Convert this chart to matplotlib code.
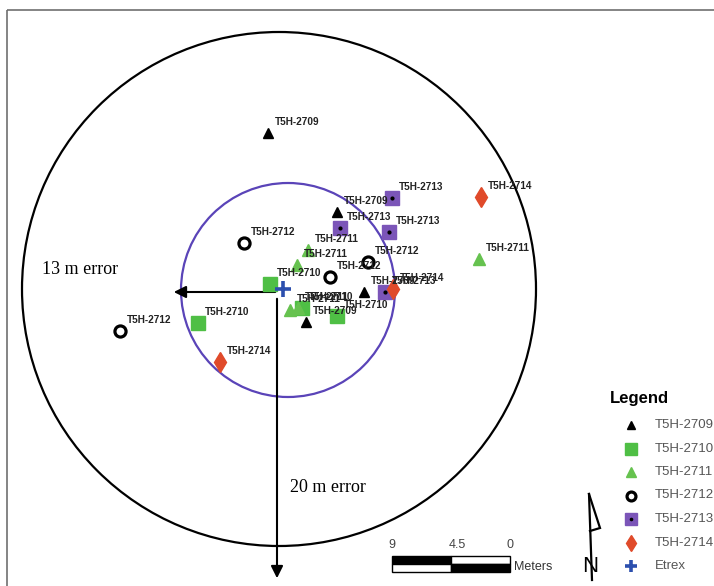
import matplotlib
matplotlib.use("Agg")
import matplotlib.pyplot as plt
from matplotlib.patches import Circle, Rectangle

# map positions (image pixel coords)
t2709_x = [268, 337, 364, 306]
t2709_y = [133, 212, 292, 322]
t2710_x = [270, 198, 302, 337]
t2710_y = [284, 323, 308, 316]
t2711_x = [479, 297, 308, 290, 298]
t2711_y = [259, 265, 250, 310, 308]
t2712_x = [244, 120, 330, 368]
t2712_y = [243, 331, 277, 262]
t2713_x = [392, 340, 389, 385]
t2713_y = [198, 228, 232, 292]
t2714_x = [481, 393, 220]
t2714_y = [197, 289, 362]
etrex_x = [283]
etrex_y = [289]

names = ["T5H-2709", "T5H-2710", "T5H-2711", "T5H-2712", "T5H-2713", "T5H-2714", "Etrex"]

# error circles: centre, radius
big_c = (279, 289)
big_r = 257
small_c = (288, 290)
small_r = 107

# scale bar ticks
scale_ticks = ["9", "4.5", "0"]

fig = plt.figure(figsize=(7.14, 5.86), dpi=100)
ax = fig.add_axes([0, 0, 1, 1])
ax.set_xlim(0, 714)
ax.set_ylim(586, 0)
ax.axis("off")

# frame
ax.add_patch(Rectangle((7, 10), 720, 600, fill=False, ec="#707070", lw=1.2))

ax.add_patch(Circle(big_c, big_r, fill=False, ec="black", lw=1.6))
ax.add_patch(Circle(small_c, small_r, fill=False, ec="#5a44b8", lw=1.6))

styles = [
    dict(marker="^", color="black", ms=7),
    dict(marker="s", color="#4fbf45", ms=10),
    dict(marker="^", color="#66c24f", ms=9),
    dict(marker="o", mfc="none", mec="black", mew=2.3, ms=8, color="black"),
    dict(marker="s", color="#7b55b8", ms=10),
    dict(marker="d", color="#e04a2a", ms=10),
    dict(marker="+", color="#2c4fae", mew=2.6, ms=11),
]
series = [(t2709_x, t2709_y), (t2710_x, t2710_y), (t2711_x, t2711_y),
          (t2712_x, t2712_y), (t2713_x, t2713_y), (t2714_x, t2714_y)]

for (xs, ys), st, nm in zip(series, styles, names):
    ax.plot(xs, ys, ls="none", zorder=4, **st)
    if nm == "T5H-2713":
        ax.plot(xs, ys, ls="none", marker="o", color="black", ms=2, zorder=5)
    for x, y in zip(xs, ys):
        ax.text(x + 7, y - 11, nm, fontsize=7.2, fontweight="bold",
                family="Liberation Sans", color="#222222", va="center", zorder=6)
ax.plot(etrex_x, etrex_y, ls="none", zorder=5, **styles[6])

# error arrows
ax.annotate("", xy=(171, 292), xytext=(278, 292),
            arrowprops=dict(arrowstyle="-|>", color="black", lw=1.5, mutation_scale=18))
ax.annotate("", xy=(277, 581), xytext=(277, 296),
            arrowprops=dict(arrowstyle="-|>", color="black", lw=1.5, mutation_scale=18))
ax.text(42, 270, "13 m error", fontsize=13, family="Liberation Serif", va="center")
ax.text(290, 488, "20 m error", fontsize=13, family="Liberation Serif", va="center")

# legend
ax.text(610, 398, "Legend", fontsize=12, fontweight="bold", family="Liberation Sans", va="center")
for i, (st, nm) in enumerate(zip(styles, names)):
    y = 425 + i * 23.5
    ax.plot([631], [y], ls="none", **{k: v for k, v in st.items() if k != "ms"},
            ms=st["ms"] * 0.8)
    if nm == "T5H-2713":
        ax.plot([631], [y], ls="none", marker="o", color="black", ms=1.6)
    ax.text(655, y, nm, fontsize=9.5, family="Liberation Sans", color="#555555",
            va="center", clip_on=True)

# scale bar
x0, x1, xm = 392, 510, 451
ax.add_patch(Rectangle((x0, 556), xm - x0, 8, fc="black", ec="black", lw=1))
ax.add_patch(Rectangle((xm, 556), x1 - xm, 8, fc="white", ec="black", lw=1))
ax.add_patch(Rectangle((x0, 564), xm - x0, 8, fc="white", ec="black", lw=1))
ax.add_patch(Rectangle((xm, 564), x1 - xm, 8, fc="black", ec="black", lw=1))
for t, xx in zip(scale_ticks, [x0, xm + 6, x1]):
    ax.text(xx, 545, t, fontsize=9, family="Liberation Sans", color="#444444",
            ha="center", va="center")
ax.text(514, 567, "Meters", fontsize=9, family="Liberation Sans", color="#333333", va="center")

# north arrow
ax.plot([589, 600, 590], [494, 528, 531], color="black", lw=1.6, solid_joinstyle="miter")
ax.plot([589, 592], [494, 580], color="black", lw=1.6)
ax.text(590, 566, "N", fontsize=16, family="Liberation Sans",
        ha="center", va="center")

fig.savefig("out.png", dpi=100)
